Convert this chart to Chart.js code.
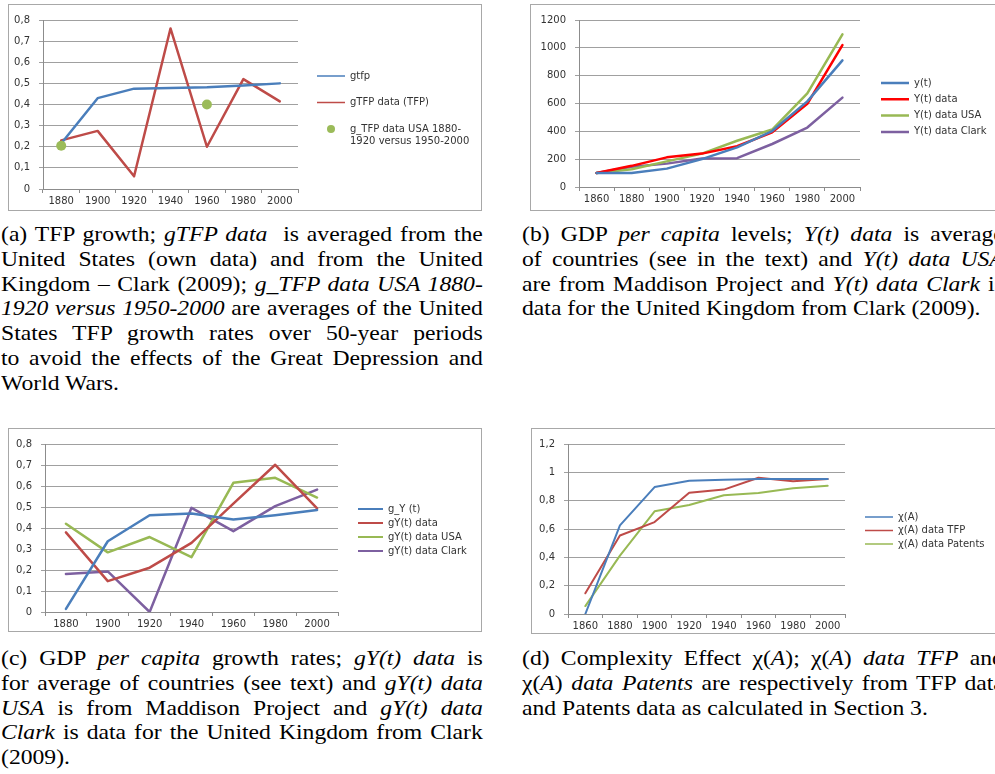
<!DOCTYPE html>
<html>
<head>
<meta charset="utf-8">
<script src="https://cdn.jsdelivr.net/npm/chart.js@4.4.1/dist/chart.umd.min.js"></script>
<style>
  body { margin: 0; width: 995px; height: 774px; overflow: hidden; background: #fff; position: relative; }
  .box { position: absolute; border: 1px solid #a8a8a8; background: #fff; }
  .box canvas { display: block; }
  .cap { position: absolute; width: 438px; font: 21.5px/24.8px "Liberation Serif", "Times New Roman", serif; color: #000;
         transform: scaleX(1.1); transform-origin: 0 0; }
  .cap div { text-align: justify; text-align-last: justify; }
  .cap div.end { text-align-last: left; }
</style>
</head>
<body>

<div class="box" style="left:8px; top:4px;"><canvas id="chart-a" width="472" height="205"></canvas></div>
<div class="box" style="left:530px; top:4px;"><canvas id="chart-b" width="478" height="205"></canvas></div>
<div class="box" style="left:8px; top:428px;"><canvas id="chart-c" width="472" height="202"></canvas></div>
<div class="box" style="left:531px; top:428px;"><canvas id="chart-d" width="478" height="204"></canvas></div>

<div class="cap" style="left:1px; top:222px;">
  <div>(a) TFP growth; <i>gTFP data</i>&nbsp; is averaged from the</div>
  <div>United States (own data) and from the United</div>
  <div>Kingdom – Clark (2009); <i>g_TFP data USA 1880-</i></div>
  <div><i>1920 versus 1950-2000</i> are averages of the United</div>
  <div>States TFP growth rates over 50-year periods</div>
  <div>to avoid the effects of the Great Depression and</div>
  <div class="end">World Wars.</div>
</div>

<div class="cap" style="left:522px; top:222px;">
  <div>(b) GDP <i>per capita</i> levels; <i>Y(t) data</i> is average</div>
  <div>of countries (see in the text) and <i>Y(t) data USA</i></div>
  <div>are from Maddison Project and <i>Y(t) data Clark</i> is</div>
  <div class="end">data for the United Kingdom from Clark (2009).</div>
</div>

<div class="cap" style="left:1px; top:646px;">
  <div>(c) GDP <i>per capita</i> growth rates; <i>gY(t) data</i> is</div>
  <div>for average of countries (see text) and <i>gY(t) data</i></div>
  <div><i>USA</i> is from Maddison Project and <i>gY(t) data</i></div>
  <div><i>Clark</i> is data for the United Kingdom from Clark</div>
  <div class="end">(2009).</div>
</div>

<div class="cap" style="left:522px; top:646px;">
  <div>(d) Complexity Effect χ(<i>A</i>); χ(<i>A</i>) <i>data TFP</i> and</div>
  <div>χ(<i>A</i>) <i>data Patents</i> are respectively from TFP data</div>
  <div class="end">and Patents data as calculated in Section 3.</div>
</div>

<script>
// (a) TFP growth
const yearsA = ["1880", "1900", "1920", "1940", "1960", "1980", "2000"];
const gtfp = [0.215, 0.43, 0.475, 0.478, 0.482, 0.49, 0.5];
const gtfpData = [0.23, 0.275, 0.06, 0.76, 0.2, 0.52, 0.415];
const gtfpUsa = [0.205, null, null, null, 0.40, null, null];
const ticksA = ["0", "0,1", "0,2", "0,3", "0,4", "0,5", "0,6", "0,7", "0,8"];

// (b) GDP per capita levels
const yearsB = ["1860", "1880", "1900", "1920", "1940", "1960", "1980", "2000"];
const yModel = [100, 100, 132, 200, 285, 402, 615, 910];
const yData = [100, 152, 213, 240, 293, 393, 598, 1020];
const yUsa = [100, 128, 184, 240, 332, 413, 672, 1097];
const yClark = [100, 145, 168, 205, 207, 309, 427, 642];
const ticksB = ["0", "200", "400", "600", "800", "1000", "1200"];

// (c) GDP per capita growth rates
const yearsC = ["1880", "1900", "1920", "1940", "1960", "1980", "2000"];
const gyModel = [0.015, 0.337, 0.461, 0.469, 0.44, 0.461, 0.486];
const gyData = [0.379, 0.147, 0.211, 0.329, 0.516, 0.701, 0.493];
const gyUsa = [0.42, 0.284, 0.357, 0.261, 0.615, 0.639, 0.545];
const gyClark = [0.181, 0.193, 0.0, 0.496, 0.385, 0.504, 0.583];
const ticksC = ["0", "0,1", "0,2", "0,3", "0,4", "0,5", "0,6", "0,7", "0,8"];

// (d) Complexity effect
const yearsD = ["1860", "1880", "1900", "1920", "1940", "1960", "1980", "2000"];
const chiModel = [0, 0.626, 0.896, 0.941, 0.948, 0.953, 0.953, 0.953];
const chiTfp = [0.146, 0.554, 0.649, 0.856, 0.878, 0.962, 0.937, 0.953];
const chiPatents = [0.056, 0.412, 0.725, 0.77, 0.838, 0.854, 0.887, 0.905];
const ticksD = ["0", "0,2", "0,4", "0,6", "0,8", "1", "1,2"];

const BLUE = "#4a7ebb";
const RED = "#be4b48";
const GREEN = "#98b954";
const PURPLE = "#7d60a0";
const GRID = "#a0a0a0";
const AXIS = "#8c8c8c";
const TXT = "#333333";
const FONT = { family: "DejaVu Sans", size: 10 };

// puts the legend at a fixed spot right of the plot
const legendPlace = {
  id: "legendPlace",
  beforeLayout(chart, args, o) {
    const lg = chart.legend;
    if (lg && !lg._wrapped) {
      const fit = lg.fit;
      lg.fit = function () {
        fit.call(this);
        this.width = o.width;
      };
      lg._wrapped = true;
    }
  },
  afterLayout(chart, args, o) {
    const lg = chart.legend;
    const p = lg.options.labels.padding;
    lg.left = o.x - p;
    lg.right = chart.width;
    lg.top = o.y - p;
    lg.bottom = chart.height + 300;
  },
};

function dotSwatch(color, r) {
  const c = document.createElement("canvas");
  c.width = c.height = r * 2 + 2;
  const g = c.getContext("2d");
  g.fillStyle = color;
  g.beginPath();
  g.arc(r + 1, r + 1, r, 0, Math.PI * 2);
  g.fill();
  return c;
}

function series(label, data, color, width) {
  return { label, data, borderColor: color, backgroundColor: color, borderWidth: width, order: 1 };
}

function lineChart(id, cfg) {
  const canvas = document.getElementById(id);
  const W = canvas.width;
  const H = canvas.height;
  return new Chart(canvas, {
    type: "line",
    data: { labels: cfg.labels, datasets: cfg.datasets },
    options: {
      responsive: false,
      animation: false,
      devicePixelRatio: 1,
      layout: { padding: { left: 0, right: 0, top: cfg.plot.top, bottom: 0 } },
      elements: {
        line: { tension: 0, borderCapStyle: "round", borderJoinStyle: "round" },
        point: { radius: 0, hoverRadius: 0 },
      },
      plugins: {
        tooltip: { enabled: false },
        legend: {
          position: "right",
          align: "start",
          labels: {
            font: FONT,
            color: TXT,
            usePointStyle: true,
            pointStyle: "line",
            pointStyleWidth: cfg.legend.line,
            padding: cfg.legend.gap,
            sort: (a, b) => a.datasetIndex - b.datasetIndex,
            generateLabels: (chart) =>
              Chart.defaults.plugins.legend.labels.generateLabels(chart).map((item) => {
                const ds = chart.data.datasets[item.datasetIndex];
                item.strokeStyle = ds.borderColor;
                item.lineWidth = cfg.legend.width;
                item.lineCap = "butt";
                if (ds.showLine === false) item.pointStyle = dotSwatch(ds.pointBackgroundColor, 4);
                else item.pointStyle = "line";
                return item;
              }),
          },
        },
        legendPlace: { x: cfg.legend.x, y: cfg.legend.y - FONT.size / 2, width: W - cfg.plot.right },
      },
      scales: {
        x: {
          offset: true,
          grid: { offset: true, drawOnChartArea: false, tickLength: 4, color: AXIS },
          border: { color: AXIS },
          ticks: { font: FONT, color: TXT, padding: 2, autoSkip: false, maxRotation: 0 },
          afterFit: (s) => { s.height = H - cfg.plot.bottom; },
        },
        y: {
          min: 0,
          max: cfg.max,
          ticks: {
            stepSize: cfg.step,
            font: FONT,
            color: TXT,
            padding: 9,
            callback: (v, i) => cfg.ticks[i],
          },
          grid: { tickLength: 4, color: GRID },
          border: { color: AXIS },
          afterFit: (s) => { s.width = cfg.plot.left; },
        },
      },
    },
    plugins: [legendPlace],
  });
}

lineChart("chart-a", {
  labels: yearsA,
  max: 0.8,
  step: 0.1,
  ticks: ticksA,
  plot: { left: 34, right: 289, top: 10, bottom: 184 },
  legend: { x: 308, y: 71, gap: 16.5, line: 28, width: 1.5 },
  datasets: [
    series("gtfp", gtfp, BLUE, 2.5),
    series("gTFP data (TFP)", gtfpData, RED, 2.5),
    {
      label: ["g_TFP data USA 1880-", "1920 versus 1950-2000"],
      data: gtfpUsa,
      showLine: false,
      pointRadius: 5,
      pointBackgroundColor: "#9bbb59",
      pointBorderWidth: 0,
      borderColor: "#9bbb59",
      backgroundColor: "#9bbb59",
      order: 0,
    },
  ],
});

lineChart("chart-b", {
  labels: yearsB,
  max: 1200,
  step: 200,
  ticks: ticksB,
  plot: { left: 48, right: 329, top: 9, bottom: 182 },
  legend: { x: 350, y: 78, gap: 6.3, line: 28, width: 2.5 },
  datasets: [
    series("y(t)", yModel, BLUE, 2.5),
    series("Y(t) data", yData, "#ff0000", 2.5),
    series("Y(t) data USA", yUsa, GREEN, 2.5),
    series("Y(t) data Clark", yClark, PURPLE, 2.5),
  ],
});

lineChart("chart-c", {
  labels: yearsC,
  max: 0.8,
  step: 0.1,
  ticks: ticksC,
  plot: { left: 36, right: 329, top: 8, bottom: 183 },
  legend: { x: 349, y: 80, gap: 4, line: 25, width: 2 },
  datasets: [
    series("g_Y (t)", gyModel, BLUE, 2.5),
    series("gY(t) data", gyData, RED, 2.5),
    series("gY(t) data USA", gyUsa, GREEN, 2.5),
    series("gY(t) data Clark", gyClark, PURPLE, 2.5),
  ],
});

lineChart("chart-d", {
  labels: yearsD,
  max: 1.2,
  step: 0.2,
  ticks: ticksD,
  plot: { left: 36, right: 313, top: 8, bottom: 185 },
  legend: { x: 333, y: 88, gap: 3.5, line: 28, width: 1.5 },
  datasets: [
    series("χ(A)", chiModel, BLUE, 2),
    series("χ(A) data TFP", chiTfp, RED, 2),
    series("χ(A) data Patents", chiPatents, GREEN, 2),
  ],
});
</script>
</body>
</html>
